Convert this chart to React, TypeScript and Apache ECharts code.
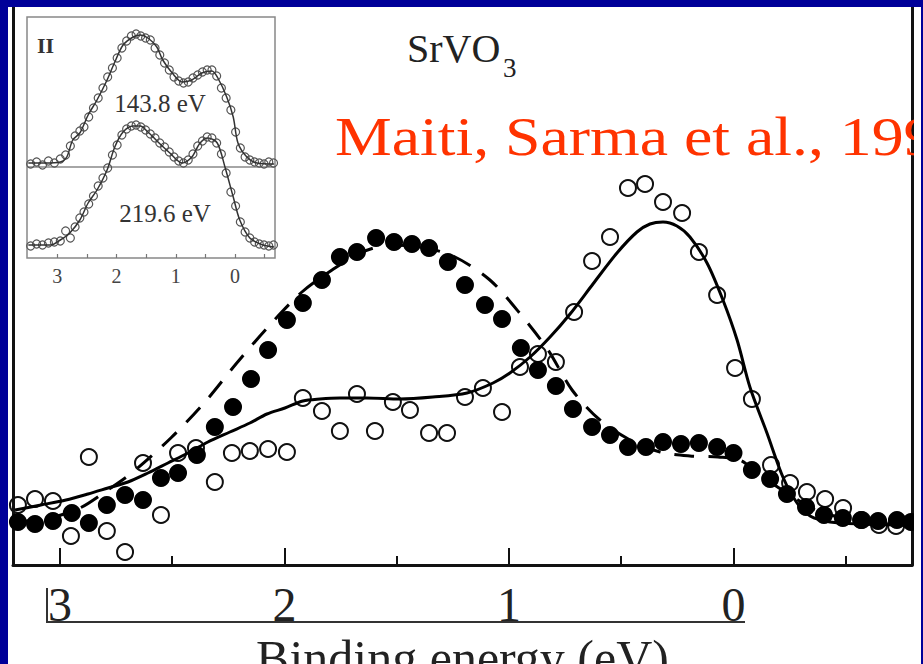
import React, { useEffect, useRef } from "react";
import * as echarts from "echarts";

// ---- main panel data (binding energy eV, intensity arb. units) ----
const filledE = [3.187, 3.111, 3.031, 2.947, 2.871, 2.791, 2.71, 2.63, 2.55, 2.474, 2.39, 2.31, 2.229, 2.149, 2.073, 1.989, 1.918, 1.833, 1.753, 1.677, 1.592, 1.512, 1.432, 1.356, 1.272, 1.196, 1.107, 1.031, 0.947, 0.871, 0.791, 0.715, 0.63, 0.55, 0.47, 0.39, 0.314, 0.234, 0.154, 0.073, 0.0, -0.082, -0.163, -0.238, -0.323, -0.403, -0.487, -0.568, -0.644, -0.728, -0.791];
const filledI = [43, 41, 44, 52, 42, 60, 70, 65, 87, 92, 110, 138, 158, 186, 215, 245, 262, 285, 308, 313, 327, 323, 321, 317, 303, 280, 260, 246, 217, 195, 179, 156, 138, 130, 118, 118, 123, 121, 122, 118, 112, 95, 86, 71, 58, 50, 47, 45, 44, 45, 43];

const openE = [3.187, 3.111, 3.031, 2.951, 2.871, 2.791, 2.71, 2.63, 2.55, 2.474, 2.394, 2.31, 2.234, 2.154, 2.073, 1.989, 1.918, 1.833, 1.753, 1.677, 1.597, 1.517, 1.441, 1.356, 1.276, 1.196, 1.116, 1.031, 0.951, 0.871, 0.791, 0.71, 0.63, 0.55, 0.47, 0.394, 0.314, 0.229, 0.154, 0.073, -0.007, -0.082, -0.167, -0.252, -0.327, -0.408, -0.488, -0.572, -0.648, -0.724];
const openI = [60, 66, 64, 29, 108, 34, 13, 102, 50, 112, 117, 83, 112, 114, 116, 113, 167, 154, 134, 171, 134, 163, 155, 132, 132, 168, 177, 153, 198, 211, 203, 253, 304, 328, 377, 381, 363, 352, 313, 270, 197, 166, 100, 82, 73, 66, 57, 45, 40, 39];

const solidE = [3.2, 3.085, 2.973, 2.875, 2.786, 2.697, 2.608, 2.519, 2.43, 2.341, 2.243, 2.154, 2.078, 1.998, 1.918, 1.842, 1.753, 1.633, 1.486, 1.339, 1.187, 1.071, 0.996, 0.906, 0.817, 0.728, 0.626, 0.519, 0.43, 0.372, 0.314, 0.252, 0.194, 0.118, 0.047, -0.016, -0.073, -0.149, -0.22, -0.283, -0.341, -0.43, -0.563, -0.791];
const solidI = [55, 60, 65, 71, 77, 83, 92, 102, 112, 123, 133, 142, 151, 157, 164, 166, 167, 167, 166, 168, 172, 182, 192, 208, 228, 251, 281, 312, 333, 341, 343, 339, 328, 302, 265, 225, 178, 132, 88, 62, 49, 43, 41, 40];

const dashE = [3.2, 3.045, 2.911, 2.8, 2.675, 2.506, 2.354, 2.216, 2.073, 1.922, 1.788, 1.664, 1.53, 1.396, 1.249, 1.085, 0.942, 0.826, 0.719, 0.595, 0.461, 0.327, 0.194, 0.069, -0.029, -0.118, -0.252, -0.385, -0.563, -0.791];
const dashI = [43, 47, 57, 73, 93, 127, 163, 201, 238, 273, 295, 312, 320, 318, 309, 285, 249, 215, 175, 145, 125, 113, 109, 108, 105, 90, 70, 53, 45, 43];

const majorTicks = [3, 2, 1, 0];
const minorTicks = [2.5, 1.5, 0.5, -0.5];

// ---- inset data ----
const insetUpperLineE = [3.49, 3.21, 2.95, 2.84, 2.74, 2.62, 2.48, 2.33, 2.16, 2.03, 1.89, 1.72, 1.6, 1.47, 1.32, 1.22, 1.06, 0.89, 0.73, 0.56, 0.39, 0.29, 0.14, 0.03, -0.05, -0.2, -0.37, -0.66];
const insetUpperLineI = [95, 95, 96, 101, 118, 125, 143, 158, 178, 196, 213, 221, 223, 220, 211, 198, 185, 176, 178, 185, 187, 180, 161, 141, 115, 101, 95, 94];
const insetLowerLineE = [3.49, 3.12, 2.95, 2.79, 2.62, 2.48, 2.33, 2.16, 2.03, 1.89, 1.72, 1.6, 1.47, 1.3, 1.1, 0.89, 0.73, 0.59, 0.46, 0.3, 0.17, 0.03, -0.08, -0.25, -0.47, -0.66];
const insetLowerLineI = [13, 13, 18, 25, 38, 55, 68, 88, 111, 126, 132, 132, 126, 116, 105, 95, 101, 115, 120, 115, 91, 61, 38, 20, 13, 11];

const insetPtsE = [3.45, 3.35, 3.25, 3.15, 3.05, 2.95, 2.86, 2.78, 2.7, 2.62, 2.55, 2.47, 2.39, 2.31, 2.23, 2.15, 2.07, 1.99, 1.91, 1.83, 1.75, 1.67, 1.59, 1.51, 1.43, 1.35, 1.27, 1.19, 1.11, 1.03, 0.95, 0.87, 0.79, 0.71, 0.63, 0.55, 0.47, 0.39, 0.31, 0.23, 0.15, 0.07, -0.01, -0.09, -0.17, -0.25, -0.33, -0.41, -0.49, -0.57, -0.65];
const insetUpperPtsI = [94, 96, 93, 97, 95, 99, 103, 112, 122, 127, 131, 141, 150, 160, 170, 181, 190, 200, 210, 217, 222, 224, 222, 220, 218, 210, 203, 195, 188, 181, 177, 175, 176, 180, 183, 186, 188, 188, 182, 170, 160, 148, 126, 110, 101, 98, 96, 95, 94, 96, 95];
const insetLowerPtsI = [12, 14, 13, 15, 16, 17, 27, 20, 31, 40, 46, 54, 62, 72, 80, 90, 103, 113, 123, 129, 132, 133, 131, 128, 124, 120, 115, 111, 106, 101, 97, 95, 98, 104, 112, 117, 121, 120, 115, 104, 85, 66, 52, 36, 26, 20, 16, 14, 13, 12, 13];
const insetMajorTicks = [3, 2, 1, 0];
const insetAllTicks = [3, 2.5, 2, 1.5, 1, 0.5, 0, -0.5];
const insetDivider = 91;

const zip = (a: number[], b: number[]) => a.map((v, i) => [v, b[i]]);

const SERIF = '"Liberation Serif", "Times New Roman", serif';
const BLUE = "#000099";

export default function App() {
  const ref = useRef<HTMLDivElement>(null);
  useEffect(() => {
    if (!ref.current) return;
    const chart = echarts.init(ref.current, undefined, { renderer: "svg" });
    const option: any = {
      animation: false,
      backgroundColor: "#ffffff",
      grid: [
        { left: 13, right: 11, top: 7, bottom: 99, show: false, containLabel: false, outerBoundsMode: "none" },
        { left: 27, top: 17, width: 248, height: 241, show: true, borderColor: "#888", borderWidth: 1.5, backgroundColor: "#fff", z: 5, containLabel: false, outerBoundsMode: "none" },
      ],
      xAxis: [
        {
          type: "value", gridIndex: 0, position: "bottom", min: -0.795, max: 3.209, inverse: true,
          splitLine: { show: false },
          axisLine: { show: true, onZero: false, lineStyle: { color: "#111", width: 3 } },
          axisTick: { show: true, inside: true, length: 17, customValues: majorTicks, lineStyle: { color: "#111", width: 2 } },
          axisLabel: { show: true, customValues: majorTicks, margin: 39, verticalAlign: "middle", fontSize: 48, fontFamily: SERIF, color: "#222" },
          name: "Binding energy (eV)", nameLocation: "middle", nameGap: 89,
          nameTextStyle: { fontSize: 50, fontFamily: SERIF, color: "#222", verticalAlign: "middle" },
        },
        {
          type: "value", gridIndex: 0, position: "bottom", min: -0.795, max: 3.209, inverse: true,
          splitLine: { show: false }, axisLine: { show: false, onZero: false }, axisLabel: { show: false },
          axisTick: { show: true, inside: true, length: 9, customValues: minorTicks, lineStyle: { color: "#111", width: 2 } },
        },
        {
          type: "value", gridIndex: 1, position: "bottom", min: -0.675, max: 3.512, inverse: true,
          splitLine: { show: false }, axisLine: { show: false, onZero: false },
          axisTick: { show: true, inside: true, length: 4, customValues: insetAllTicks, lineStyle: { color: "#777", width: 1.2 } },
          axisLabel: { show: true, customValues: insetMajorTicks, margin: 18, verticalAlign: "middle", fontSize: 20, fontFamily: SERIF, color: "#444" },
          z: 6,
        },
      ],
      yAxis: [
        { type: "value", gridIndex: 0, min: 0, max: 558, position: "left", splitLine: { show: false }, axisTick: { show: false }, axisLabel: { show: false }, axisLine: { show: true, onZero: false, lineStyle: { color: "#111", width: 3 } } },
        { type: "value", gridIndex: 0, min: 0, max: 558, position: "right", splitLine: { show: false }, axisTick: { show: false }, axisLabel: { show: false }, axisLine: { show: true, onZero: false, lineStyle: { color: "#111", width: 3 } } },
        { type: "value", gridIndex: 1, min: 0, max: 241, splitLine: { show: false }, axisTick: { show: false }, axisLabel: { show: false }, axisLine: { show: false, onZero: false } },
      ],
      series: [
        {
          type: "line", name: "fit-dashed", xAxisIndex: 0, yAxisIndex: 0, data: zip(dashE, dashI), smooth: 0.3, showSymbol: false,
          lineStyle: { color: "#000", width: 3, type: [20, 14] }, z: 2,
        },
        {
          type: "scatter", name: "open", xAxisIndex: 0, yAxisIndex: 0, data: zip(openE, openI), symbol: "circle", symbolSize: 16,
          itemStyle: { color: "rgba(255,255,255,0)", borderColor: "#111", borderWidth: 2, opacity: 1 }, z: 3,
        },
        {
          type: "line", name: "fit-solid", xAxisIndex: 0, yAxisIndex: 0, data: zip(solidE, solidI), smooth: 0.3, showSymbol: false,
          lineStyle: { color: "#000", width: 3 }, z: 4,
        },
        {
          type: "scatter", name: "filled", xAxisIndex: 0, yAxisIndex: 0, data: zip(filledE, filledI), symbol: "circle", symbolSize: 18,
          itemStyle: { color: "#000", opacity: 1 }, z: 5,
        },
        {
          type: "scatter", name: "inset-upper-pts", xAxisIndex: 2, yAxisIndex: 2, data: zip(insetPtsE, insetUpperPtsI), symbol: "circle", symbolSize: 8,
          itemStyle: { color: "rgba(255,255,255,0)", borderColor: "#555", borderWidth: 1.2, opacity: 1 }, z: 7,
        },
        {
          type: "scatter", name: "inset-lower-pts", xAxisIndex: 2, yAxisIndex: 2, data: zip(insetPtsE, insetLowerPtsI), symbol: "circle", symbolSize: 8,
          itemStyle: { color: "rgba(255,255,255,0)", borderColor: "#555", borderWidth: 1.2, opacity: 1 }, z: 7,
        },
        {
          type: "line", name: "inset-upper", xAxisIndex: 2, yAxisIndex: 2, data: zip(insetUpperLineE, insetUpperLineI), smooth: 0.3, showSymbol: false,
          lineStyle: { color: "#333", width: 1.5 }, z: 8,
          markLine: { silent: true, symbol: "none", label: { show: false }, lineStyle: { color: "#888", width: 1.5, type: "solid" }, data: [{ yAxis: insetDivider }] },
        },
        {
          type: "line", name: "inset-lower", xAxisIndex: 2, yAxisIndex: 2, data: zip(insetLowerLineE, insetLowerLineI), smooth: 0.3, showSymbol: false,
          lineStyle: { color: "#333", width: 1.5 }, z: 8,
        },
      ],
      graphic: [
        { type: "text", x: 407, y: 48.5, z: 50, style: { text: "SrVO", fontSize: 40, fontFamily: SERIF, fill: "#222", align: "left", verticalAlign: "middle" } },
        { type: "text", x: 503, y: 68, z: 50, style: { text: "3", fontSize: 27, fontFamily: SERIF, fill: "#222", align: "left", verticalAlign: "middle" } },
        { type: "text", x: 335, y: 136.5, scaleX: 1.16, z: 50, style: { text: "Maiti, Sarma et al., 1998", fontSize: 55, fontFamily: SERIF, fill: "#ff3300", align: "left", verticalAlign: "middle" } },
        { type: "text", x: 160, y: 103.6, z: 60, style: { text: "143.8 eV", fontSize: 25, fontFamily: SERIF, fill: "#333", align: "center", verticalAlign: "middle" } },
        { type: "text", x: 165, y: 213.6, z: 60, style: { text: "219.6 eV", fontSize: 25, fontFamily: SERIF, fill: "#333", align: "center", verticalAlign: "middle" } },
        { type: "text", x: 37, y: 45.6, z: 60, style: { text: "II", fontSize: 22, fontWeight: "bold", fontFamily: SERIF, fill: "#333", align: "left", verticalAlign: "middle" } },
        { type: "polyline", z: 50, shape: { points: [[47, 588], [47, 622], [745, 622]] }, style: { stroke: "#333", lineWidth: 2, fill: null } },
        { type: "rect", z: 100, shape: { x: 914, y: 7, width: 8, height: 657 }, style: { fill: "#fff" } },
        { type: "rect", z: 101, shape: { x: 0, y: 0, width: 8, height: 664 }, style: { fill: BLUE } },
        { type: "rect", z: 101, shape: { x: 0, y: 0, width: 923, height: 7 }, style: { fill: BLUE } },
        { type: "rect", z: 101, shape: { x: 921, y: 0, width: 2, height: 664 }, style: { fill: BLUE } },
      ],
    };
    chart.setOption(option);
    return () => chart.dispose();
  }, []);
  return (
    <div
      ref={ref}
      style={{ position: "fixed", left: 0, top: 0, width: 923, height: 664, background: "#fff" }}
    />
  );
}
